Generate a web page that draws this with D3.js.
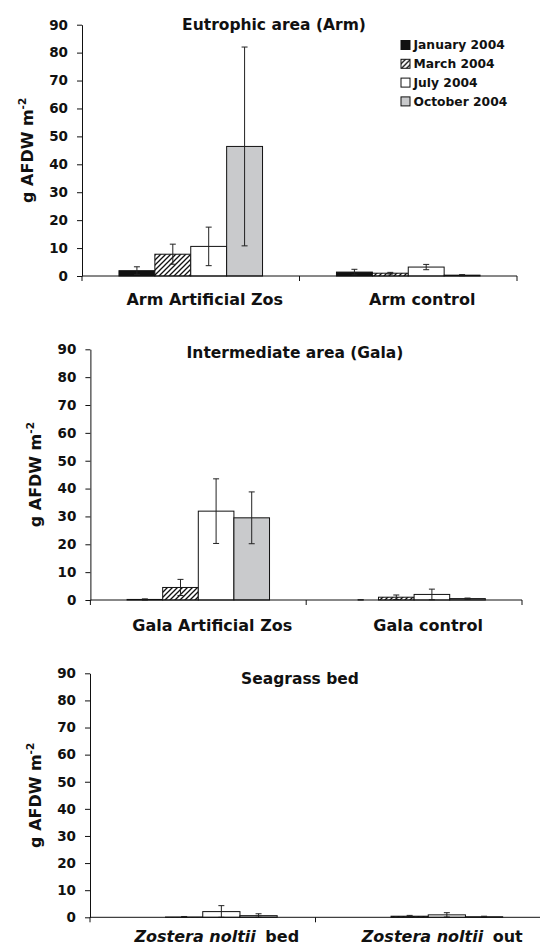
<!DOCTYPE html>
<html>
<head>
<meta charset="utf-8">
<script src="https://cdn.jsdelivr.net/npm/d3@7"></script>
<style>
    body { margin: 0; background: #fff; }
    svg text { font-family: "DejaVu Sans", sans-serif; font-weight: bold; fill: #111; }
</style>
</head>
<body>
<script>
// sampling months, one bar of each per site
const months = ["January 2004", "March 2004", "July 2004", "October 2004"];
const yTicks = [0, 10, 20, 30, 40, 50, 60, 70, 80, 90];

// Eutrophic area (Arm): rows = months, columns = sites
const armSites = ["Arm Artificial Zos", "Arm control"];
const armMeans = [[1.9, 1.4], [7.8, 1.0], [10.6, 3.2], [46.4, 0.3]];
const armErrors = [[1.4, 1.0], [3.6, 0.3], [6.9, 0.95], [35.6, 0.2]];

// Intermediate area (Gala)
const galaSites = ["Gala Artificial Zos", "Gala control"];
const galaMeans = [[0.2, 0.0], [4.5, 1.0], [31.9, 2.0], [29.5, 0.5]];
const galaErrors = [[0.2, 0.1], [2.9, 0.8], [11.6, 1.9], [9.3, 0.2]];

// Seagrass bed
const bedSites = ["Zostera noltii bed", "Zostera noltii out"];
const bedMeans = [[0.0, 0.0], [0.1, 0.4], [2.1, 0.9], [0.6, 0.2]];
const bedErrors = [[0.0, 0.0], [0.2, 0.3], [2.2, 0.8], [0.7, 0.2]];

const fills = ["#111111", "url(#hatch)", "#ffffff", "#c9cacc"];


/**
 * Builds the svg and draws the three panels.
 */
function main() {
    let svg = d3.select("body")
                .append("svg")
                .attr("width", 540)
                .attr("height", 947);

    // diagonal hatch for March bars
    let pattern = svg.append("defs")
                     .append("pattern")
                     .attr("id", "hatch")
                     .attr("patternUnits", "userSpaceOnUse")
                     .attr("width", 5)
                     .attr("height", 5);
    pattern.append("rect")
           .attr("width", 5)
           .attr("height", 5)
           .attr("fill", "#fff");
    pattern.append("path")
           .attr("d", "M-1,1 l2,-2 M0,5 l5,-5 M4,6 l2,-2")
           .attr("stroke", "#111")
           .attr("stroke-width", 1.3);

    let panels = [
        {title: "Eutrophic area (Arm)", sites: armSites, means: armMeans, errors: armErrors,
         left: 82, right: 517, top: 24.7, bottom: 276, titleX: 274, titleY: 30,
         labelY: 305, legend: true},
        {title: "Intermediate area (Gala)", sites: galaSites, means: galaMeans, errors: galaErrors,
         left: 90.4, right: 522, top: 349.3, bottom: 600, titleX: 295, titleY: 358,
         labelY: 631, legend: false},
        {title: "Seagrass bed", sites: bedSites, means: bedMeans, errors: bedErrors,
         left: 90, right: 541, top: 673.3, bottom: 917.3, titleX: 300, titleY: 684,
         labelY: 942, legend: false, italic: true}
    ];

    panels.forEach(p => drawPanel(svg, p));
}


/**
 * Draws one bar panel with error bars, axes and labels.
 */
function drawPanel(svg, p) {
    let x = d3.scaleBand()
              .domain(p.sites)
              .range([p.left, p.right]);
    let inner = d3.scaleBand()
                  .domain(months)
                  .range([0, x.bandwidth()])
                  .paddingOuter(1.03);
    let y = d3.scaleLinear()
              .domain([0, 90])
              .range([p.bottom, p.top]);

    let g = svg.append("g");

    // flatten into one row per bar
    let rows = [];
    months.forEach((m, i) => {
        p.sites.forEach((s, j) => {
            rows.push({site: s, month: m, i: i, mean: p.means[i][j], err: p.errors[i][j]});
        });
    });

    // bars
    g.selectAll(".bar")
     .data(rows)
     .enter()
     .append("rect")
     .attr("class", "bar")
     .attr("x", d => x(d.site) + inner(d.month))
     .attr("y", d => y(d.mean))
     .attr("width", inner.bandwidth())
     .attr("height", d => y(0) - y(d.mean))
     .attr("fill", d => fills[d.i])
     .attr("stroke", "#111")
     .attr("stroke-width", 1);

    // error bars
    let errs = g.selectAll(".err")
                .data(rows.filter(d => d.err > 0))
                .enter()
                .append("g")
                .attr("class", "err")
                .attr("stroke", "#222")
                .attr("stroke-width", 1);
    let cx = d => x(d.site) + inner(d.month) + inner.bandwidth() / 2;
    errs.append("line")
        .attr("x1", cx).attr("x2", cx)
        .attr("y1", d => y(Math.max(0, d.mean - d.err)))
        .attr("y2", d => y(d.mean + d.err));
    errs.append("line")
        .attr("x1", d => cx(d) - 3).attr("x2", d => cx(d) + 3)
        .attr("y1", d => y(d.mean + d.err))
        .attr("y2", d => y(d.mean + d.err));
    errs.append("line")
        .attr("x1", d => cx(d) - 3).attr("x2", d => cx(d) + 3)
        .attr("y1", d => y(Math.max(0, d.mean - d.err)))
        .attr("y2", d => y(Math.max(0, d.mean - d.err)));

    // y axis
    let yAxis = g.append("g")
                 .attr("transform", "translate(" + p.left + ",0)")
                 .call(d3.axisLeft(y)
                         .tickValues(yTicks)
                         .tickSize(5)
                         .tickSizeOuter(0)
                         .tickPadding(9));
    yAxis.selectAll("text")
         .style("font-size", "13.5px");
    yAxis.selectAll("path, line")
         .attr("stroke", "#111");

    // x axis line with ticks at band edges
    g.append("line")
     .attr("x1", p.left).attr("x2", p.right)
     .attr("y1", y(0)).attr("y2", y(0))
     .attr("stroke", "#111");
    let edges = p.sites.map(s => x(s)).concat([x(p.sites[1]) + x.bandwidth()]);
    g.selectAll(".xtick")
     .data(edges)
     .enter()
     .append("line")
     .attr("x1", d => d).attr("x2", d => d)
     .attr("y1", y(0)).attr("y2", y(0) + 5)
     .attr("stroke", "#111");

    // site labels
    let labels = g.selectAll(".site")
                  .data(p.sites)
                  .enter()
                  .append("text")
                  .attr("x", d => x(d) + x.bandwidth() / 2 + 14)
                  .attr("y", p.labelY)
                  .attr("text-anchor", "middle")
                  .style("font-size", "16px");
    if (p.italic) {
        labels.append("tspan")
              .style("font-style", "italic")
              .text("Zostera noltii");
        labels.append("tspan")
              .attr("dx", 4)
              .text(d => " " + d.split(" ")[2]);
    } else {
        labels.text(d => d);
    }

    // panel title
    g.append("text")
     .attr("x", p.titleX)
     .attr("y", p.titleY)
     .attr("text-anchor", "middle")
     .style("font-size", "15.5px")
     .text(p.title);

    // y title
    let yt = g.append("text")
              .attr("transform", "translate(" + (p.left - 49) + "," + ((p.top + p.bottom) / 2) + ") rotate(-90)")
              .attr("text-anchor", "middle")
              .style("font-size", "16px");
    yt.append("tspan").text("g AFDW m");
    yt.append("tspan")
      .attr("dy", -7)
      .style("font-size", "10.5px")
      .text("-2");

    if (p.legend) {
        drawLegend(g);
    }
}


/**
 * Legend of the four sampling months.
 */
function drawLegend(g) {
    let rows = g.selectAll(".legend")
                .data(months)
                .enter()
                .append("g")
                .attr("class", "legend")
                .attr("transform", (d, i) => "translate(401," + (45 + i * 18.8) + ")");
    rows.append("rect")
        .attr("x", 0)
        .attr("y", -4.5)
        .attr("width", 9)
        .attr("height", 9)
        .attr("fill", (d, i) => fills[i])
        .attr("stroke", "#111");
    rows.append("text")
        .attr("x", 12.5)
        .attr("dy", "0.36em")
        .style("font-size", "12.3px")
        .text(d => d);
}

main();
</script>
</body>
</html>
